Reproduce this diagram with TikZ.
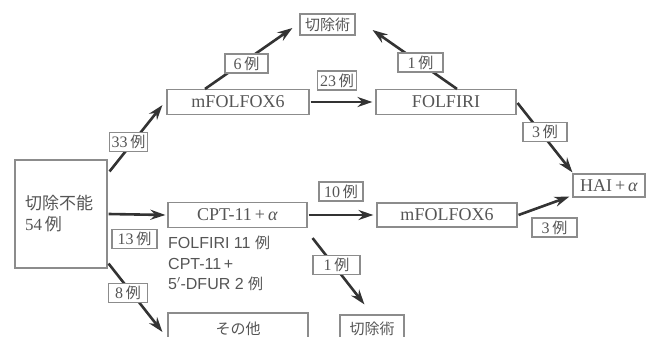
\documentclass[tikz,border=0pt]{standalone}
\usepackage{fontspec}
\setmainfont{Liberation Serif}
\setsansfont{Liberation Sans}
\newfontfamily\jpf{Noto Sans CJK JP}
\usetikzlibrary{arrows.meta}
\definecolor{boxgray}{HTML}{8C8C8C}
\definecolor{txt}{HTML}{555555}
\definecolor{arrc}{HTML}{333333}
\newcommand\jrei{{\jpf\fontsize{15}{16}\selectfont 例}}
\begin{document}
\begin{tikzpicture}[x=1pt,y=-1pt,
 box/.style={draw=boxgray,line width=1.1pt,inner sep=0pt,text=txt,font=\fontsize{18}{20}\selectfont},
 lab/.style={draw=boxgray,fill=white,line width=1.1pt,inner sep=0pt,minimum height=19pt,text=txt,font=\fontsize{16}{16}\selectfont},
 arr/.style={draw=arrc,line width=2.6pt,-{Stealth[length=15pt,width=10pt]}}]
\useasboundingbox (0,0) rectangle (646,337);
\clip (0,0) rectangle (646,337);
% boxes
\node[box,minimum width=92pt,minimum height=108pt,text width=72pt,align=left,font=\jpf\fontsize{17}{21}\selectfont] (main) at (61,214) {切除不能\\{\rmfamily\fontsize{17}{21}\selectfont 54}\,例};
\node[box,minimum width=142pt,minimum height=25pt] (mf1) at (238,102) {mFOLFOX6};
\node[box,minimum width=55pt,minimum height=21pt,font=\jpf\fontsize{15}{16}\selectfont] (s1) at (327.5,24.5) {切除術};
\node[box,minimum width=140pt,minimum height=25pt] (folfiri) at (446,102) {FOLFIRI};
\node[box,minimum width=72pt,minimum height=23pt] (hai) at (609,185.5) {HAI\,+\,\textit{α}};
\node[box,minimum width=139pt,minimum height=25pt] (cpt) at (237.5,215) {CPT-11\,+\,\textit{α}};
\node[box,minimum width=140pt,minimum height=24pt] (mf2) at (447,215) {mFOLFOX6};
\node[box,minimum width=140pt,minimum height=32pt,font=\jpf\fontsize{15}{16}\selectfont] (other) at (238,329) {その他};
\node[box,minimum width=64pt,minimum height=28pt,font=\jpf\fontsize{15}{16}\selectfont] (s2) at (372,329) {切除術};
\node[anchor=north west,inner sep=0pt,align=left,text=txt,font=\sffamily\fontsize{16}{20.5}\selectfont] (note) at (168,236)
  {FOLFIRI 11 \jrei\\CPT-11\,+\\5$'$-DFUR 2 \jrei};
% arrows
\draw[arr] ([shift={(2,12)}]main.north east) -- ([shift={(-4,-10)}]mf1.south west);
\draw[arr] ([xshift=1pt]main.east) -- ([xshift=-2pt]cpt.west);
\draw[arr] ([shift={(1,-5)}]main.south east) -- ([shift={(-5,3)}]other.west);
\draw[arr] ([shift={(-33,0)}]mf1.north) -- ([shift={(-7,3.5)}]s1.west);
\draw[arr] ([xshift=1pt]mf1.east) -- ([xshift=-3pt]folfiri.west);
\draw[arr] ([shift={(11,0)}]folfiri.north) -- ([shift={(17,5.5)}]s1.east);
\draw[arr] ([shift={(1,1)}]folfiri.east) -- ([shift={(0,-1)}]hai.north west);
\draw[arr] ([xshift=1pt]cpt.east) -- ([xshift=-3pt]mf2.west);
\draw[arr] ([xshift=1pt]mf2.east) -- ([shift={(-3,-1)}]hai.south west);
\draw[arr] ([shift={(5,10)}]cpt.south east) -- ([shift={(25,-10)}]s2.north west);
% labels
\node[lab,minimum width=38pt] (l33) at (128.5,142) {33\,\jrei};
\node[lab,minimum width=43pt] (l6) at (246.5,63.5) {6\,\jrei};
\node[lab,minimum width=39pt] (l23) at (337,80.5) {23\,\jrei};
\node[lab,minimum width=45pt] (l1a) at (420.5,62.5) {1\,\jrei};
\node[lab,minimum width=44pt] (l3a) at (545,132) {3\,\jrei};
\node[lab,minimum width=44pt] (l10) at (341,191.5) {10\,\jrei};
\node[lab,minimum width=45pt] (l3b) at (554.5,227.5) {3\,\jrei};
\node[lab,minimum width=45pt] (l13) at (134.5,239) {13\,\jrei};
\node[lab,minimum width=39pt] (l8) at (128,293) {8\,\jrei};
\node[lab,minimum width=47pt] (l1b) at (336.5,265) {1\,\jrei};
\end{tikzpicture}
\end{document}
